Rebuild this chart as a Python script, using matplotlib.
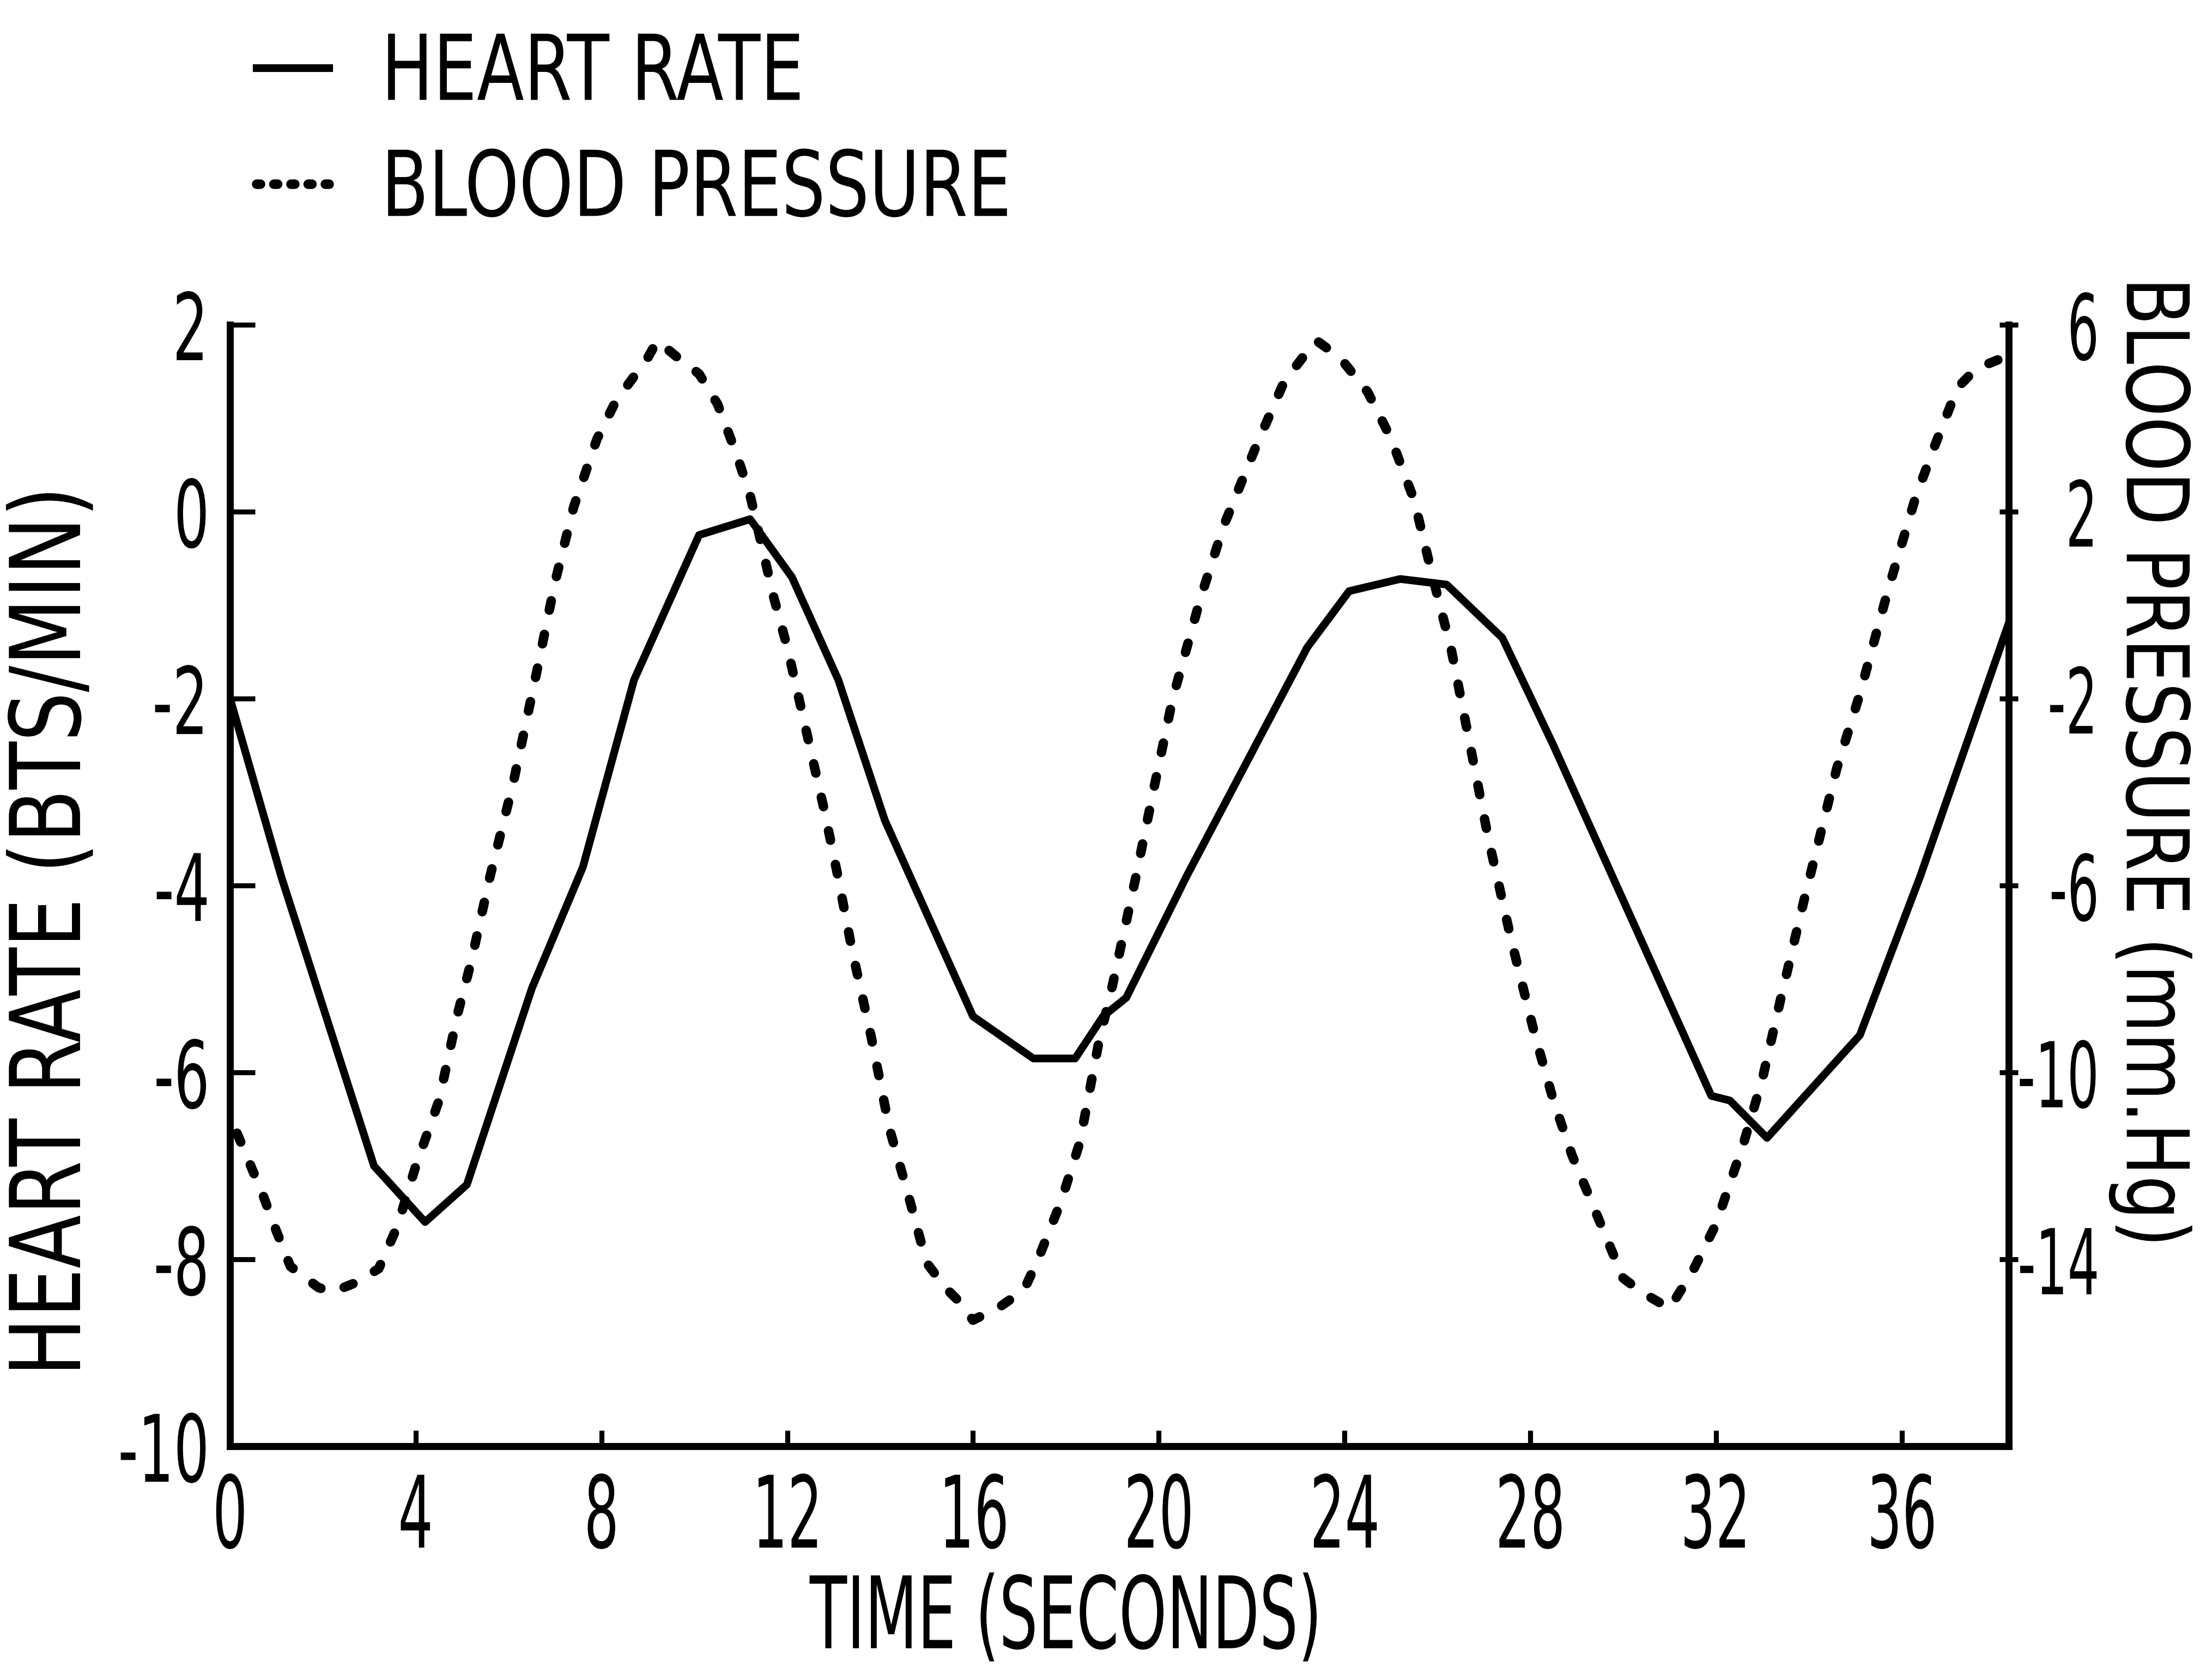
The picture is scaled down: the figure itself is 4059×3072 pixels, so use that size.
import matplotlib
matplotlib.use("Agg")
import matplotlib.pyplot as plt
from matplotlib import patheffects
from matplotlib.lines import Line2D
from matplotlib.transforms import Affine2D

plt.rcParams["font.family"] = ["DejaVu Sans"]
plt.rcParams["axes.unicode_minus"] = False

# heart rate change (beats/min), left axis
hr_time = [0, 1.1, 3.1, 4.2, 5.1, 6.5, 7.6, 8.7, 10.1, 11.2, 12.1, 13.1, 14.1,
           16.0, 17.3, 18.2, 18.8, 19.3, 20.6, 23.2, 24.1, 25.2, 26.2, 27.4,
           28.5, 31.9, 32.3, 33.1, 35.1, 36.4, 38.3]
hr_value = [-2.0, -3.9, -7.0, -7.6, -7.2, -5.1, -3.8, -1.8, -0.25, -0.08, -0.7,
            -1.8, -3.3, -5.4, -5.85, -5.85, -5.4, -5.2, -3.9, -1.45, -0.85,
            -0.72, -0.78, -1.35, -2.5, -6.25, -6.3, -6.7, -5.6, -3.9, -1.2]

# blood pressure change (mm Hg), right axis
bp_time = [0.15, 0.7, 1.0, 1.3, 1.9, 2.2, 2.7, 3.2, 3.6, 4.0, 4.5, 4.9, 5.2,
           5.6, 6.1, 6.6, 7.0, 7.4, 7.9, 8.3, 8.6, 9.0, 9.2, 9.6, 10.1, 10.5,
           10.9, 11.2, 11.7, 12.0, 12.4, 12.8, 13.1, 13.4, 13.8, 14.2, 14.6,
           15.0, 15.4, 15.7, 16.0, 16.6, 17.1, 17.4, 17.9, 18.3, 18.7, 19.0,
           19.5, 19.9, 20.3, 20.9, 21.4, 22.1, 22.7, 23.1, 23.4, 23.9, 24.5,
           25.0, 25.5, 25.9, 26.3, 26.7, 27.1, 27.6, 28.1, 28.5, 28.9, 29.5,
           30.0, 30.4, 31.0, 31.5, 32.0, 32.6, 33.0, 33.4, 33.9, 34.6, 35.1,
           35.7, 36.3, 36.7, 37.2, 37.6, 38.2]
bp_value = [-11.3, -12.6, -13.4, -14.15, -14.6, -14.7, -14.5, -14.2, -13.3,
            -12.0, -10.6, -8.75, -7.6, -5.8, -3.8, -1.45, 0.5, 2.1, 3.55, 4.35,
            4.76, 5.3, 5.66, 5.33, 4.95, 4.3, 3.25, 2.35, 0.2, -0.9, -2.65,
            -4.4, -5.85, -7.4, -9.2, -11.2, -12.6, -14.07, -14.6, -14.9, -15.3,
            -15.0, -14.65, -14.0, -12.75, -11.5, -9.4, -8.15, -5.85, -3.9, -2.0,
            0.15, 1.7, 3.41, 4.78, 5.3, 5.66, 5.3, 4.56, 3.57, 2.25, 0.6, -0.95,
            -2.97, -5.0, -7.2, -9.2, -10.6, -11.77, -13.2, -14.4, -14.7, -15.05,
            -14.25, -13.25, -11.5, -10.14, -8.4, -6.3, -3.5, -1.9, 0.3, 2.31,
            3.38, 4.65, 5.06, 5.3]

x_ticks = [0, 4, 8, 12, 16, 20, 24, 28, 32, 36]
hr_ticks = [-10, -8, -6, -4, -2, 0, 2]
bp_ticks = [6, 2, -2, -6, -10, -14]


class Narrow(patheffects.AbstractPathEffect):
    """Squeeze glyphs horizontally to get a condensed lettering look."""

    def __init__(self, factor, anchor="center"):
        super().__init__()
        self.factor = factor
        self.anchor = anchor

    def draw_path(self, renderer, gc, tpath, affine, rgbFace=None):
        ext = tpath.get_extents()
        if self.anchor == "left":
            x0 = ext.x0
        elif self.anchor == "right":
            x0 = ext.x1
        else:
            x0 = 0.5 * (ext.x0 + ext.x1)
        squeeze = Affine2D().translate(-x0, 0).scale(self.factor, 1).translate(x0, 0)
        renderer.draw_path(gc, tpath, squeeze + affine, rgbFace)


def narrow(text, factor, anchor="center"):
    text.set_path_effects([Narrow(factor, anchor)])


fig = plt.figure(figsize=(4059 / 300, 3072 / 300), dpi=300)
ax = fig.add_axes([0.104, 0.136, 0.804, 0.670])
ax2 = ax.twinx()

ax.plot(hr_time, hr_value, color="black", lw=3.4)
ax2.plot(bp_time, bp_value, color="black", lw=4.2,
         linestyle=(0, (1.0, 2.6)), dash_capstyle="round")

ax.set_xlim(0, 38.3)
ax.set_ylim(-10, 2)
ax2.set_ylim(-18, 6)
ax.set_xticks(x_ticks)
ax.set_yticks(hr_ticks)
ax2.set_yticks(bp_ticks)

for a in (ax, ax2):
    a.spines["top"].set_visible(False)
    for side in ("left", "bottom", "right"):
        a.spines[side].set_linewidth(3.0)

ax.tick_params(axis="y", direction="in", length=11, width=2.2,
               labelsize=41, pad=8)
ax.tick_params(axis="x", direction="in", length=7, width=2.2,
               labelsize=44, pad=11)
ax2.tick_params(axis="y", direction="inout", length=8, width=2.2,
                labelsize=40, pad=37)

for tick in ax.xaxis.get_major_ticks():
    narrow(tick.label1, 0.55)
for tick in ax.yaxis.get_major_ticks():
    narrow(tick.label1, 0.6, "right")
for tick in ax2.yaxis.get_major_ticks():
    tick.label2.set_horizontalalignment("right")
    narrow(tick.label2, 0.55, "right")

ax.set_ylabel("HEART RATE (BTS/MIN)", fontsize=43)
ax.yaxis.set_label_coords(-0.073, 0.459)
narrow(ax.yaxis.label, 0.8)

ax2.set_ylabel("BLOOD PRESSURE (mm.Hg)", fontsize=38, rotation=270,
               va="center")
ax2.yaxis.set_label_coords(1.08, 0.61)
narrow(ax2.yaxis.label, 0.81)

ax.set_xlabel("TIME (SECONDS)", fontsize=44)
ax.xaxis.set_label_coords(0.471, -0.112)
narrow(ax.xaxis.label, 0.61)

handles = [
    Line2D([], [], color="black", lw=3.4),
    Line2D([], [], color="black", lw=4.2, linestyle=(0, (0.4, 1.4)),
           dash_capstyle="round"),
]
leg = fig.legend(handles, ["HEART RATE", "BLOOD PRESSURE"], loc="upper left",
                 bbox_to_anchor=(0.116, 0.982), frameon=False, fontsize=40,
                 handlelength=0.8, handletextpad=0.55, labelspacing=0.3,
                 borderpad=0, borderaxespad=0)
for txt in leg.get_texts():
    narrow(txt, 0.76, "left")

fig.savefig("out.png", dpi=300, facecolor="white")
